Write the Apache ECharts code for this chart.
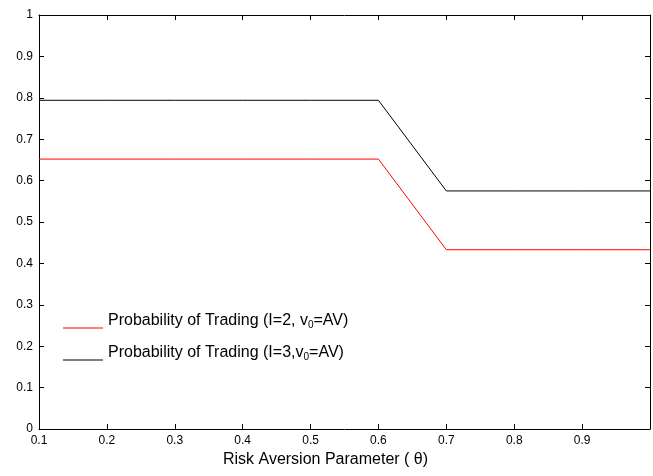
<!DOCTYPE html>
<html><head><meta charset="utf-8">
<script src="https://cdn.jsdelivr.net/npm/echarts@6/dist/echarts.min.js"></script>
<style>html,body{margin:0;padding:0;background:#fff}#c{width:653px;height:476px}</style>
</head><body><div id="c"></div>
<script>
const xValues = [0.1, 0.2, 0.3, 0.4, 0.5, 0.6, 0.7, 0.8, 0.9, 1.0];
const redValues = [0.652, 0.652, 0.652, 0.652, 0.652, 0.652, 0.433, 0.433, 0.433, 0.433];
const blackValues = [0.794, 0.794, 0.794, 0.794, 0.794, 0.794, 0.575, 0.575, 0.575, 0.575];
const seriesNames = ['red', 'black'];
const font = 'Liberation Sans, Arial, sans-serif';
const chart = echarts.init(document.getElementById('c'), null, {renderer: 'canvas'});
const rich = {
  a: {fontFamily: font, fontSize: 16, color: '#000'},
  s: {fontFamily: font, fontSize: 10, color: '#000', verticalAlign: 'bottom', padding: [9, 0, 0, 0]}
};
const labelMap = {
  red: '{a|Probability of Trading (I=2, v}{s|0}{a|=AV)}',
  black: '{a|Probability of Trading (I=3,v}{s|0}{a|=AV)}'
};
const axisCommon = {
  axisLine: {show: true, onZero: false, lineStyle: {color: '#000', width: 1}},
  axisTick: {show: true, inside: true, length: 5, lineStyle: {color: '#000'}},
  splitLine: {show: false}
};
function legendFor(name, top) {
  return {
    left: 58, top: top, orient: 'vertical',
    itemWidth: 40, itemHeight: 1, icon: 'rect', itemGap: 0,
    data: [name],
    formatter: n => labelMap[n],
    textStyle: {rich: rich, padding: [0, 0, 14, 0]}
  };
}
chart.setOption({
  animation: false,
  grid: {left: 39, top: 15, right: -3, bottom: 47},
  legend: [legendFor('red', 308), legendFor('black', 340)],
  xAxis: [
    Object.assign({type: 'value', min: 0.1, max: 1, interval: 0.1, position: 'bottom',
      name: 'Risk Aversion Parameter ( θ)', nameLocation: 'middle', nameGap: 23,
      nameTextStyle: {fontFamily: font, fontSize: 16, color: '#000', padding: [0, 38, 0, 0]},
      axisLabel: {fontFamily: font, fontSize: 12, color: '#000', margin: 6,
        formatter: v => (Math.abs(v - 1) < 1e-9 ? '' : (Math.round(v * 10) / 10).toString())}}, axisCommon),
    Object.assign({type: 'value', min: 0.1, max: 1, interval: 0.1, position: 'top',
      axisLabel: {show: false}}, axisCommon)
  ],
  yAxis: [
    Object.assign({type: 'value', min: 0, max: 1, interval: 0.1, position: 'left',
      axisLabel: {fontFamily: font, fontSize: 12, color: '#000', margin: 6,
        formatter: v => (Math.round(v * 10) / 10).toString()}}, axisCommon),
    Object.assign({type: 'value', min: 0, max: 1, interval: 0.1, position: 'right',
      axisLabel: {show: false}}, axisCommon)
  ],
  series: [
    {name: 'red', type: 'line', symbol: 'none', data: xValues.map((x, i) => [x, redValues[i]]),
      lineStyle: {color: '#ff0000', width: 1}, itemStyle: {color: '#ff0000'}},
    {name: 'black', type: 'line', symbol: 'none', data: xValues.map((x, i) => [x, blackValues[i]]),
      lineStyle: {color: '#000', width: 1}, itemStyle: {color: '#000'}}
  ]
});
</script></body></html>
